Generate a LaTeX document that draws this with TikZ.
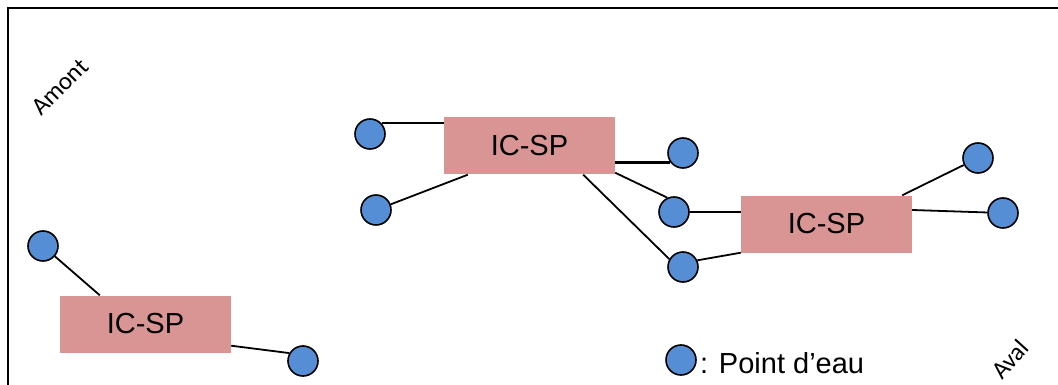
\documentclass[tikz,border=0pt]{standalone}
\usepackage{fontspec}
\setmainfont{Liberation Sans}
\newfontfamily\calib{Carlito}
\usetikzlibrary{positioning}
\definecolor{boxpink}{RGB}{217,148,148}
\definecolor{eaublue}{RGB}{85,142,213}
\newcommand{\boxw}{171pt}

\begin{document}
\begin{tikzpicture}[x=1pt, y=-1pt,
    icsp/.style={rectangle, fill=boxpink, minimum width=\boxw, minimum height=57pt, inner sep=0pt, font=\fontsize{29}{34}\selectfont},
    eau/.style={circle, draw, fill=eaublue, line width=1.6pt, minimum size=30pt, inner sep=0pt},
    link/.style={line width=1.8pt},
    side/.style={font=\calib\fontsize{25}{29}\selectfont, inner sep=0pt}]
    \clip (0,0) rectangle (1058,385);
    % frame
    \draw[line width=2.2pt] (8,400) -- (8,8) -- (1070,8);

    \node[side, rotate=45] (amont) at (60,87) {Amont};
    \node[side, rotate=48] (aval) at (1010,359) {Aval};

    % Stations
    \node[icsp] (box-1) at (529.5,146) {IC-SP};
    \node[icsp] (box-2) at (826.5,224) {IC-SP};
    \node[icsp] (box-3) at (145.5,324) {IC-SP};

    % Points d'eau
    \node[eau] (eau-1) at (370,134) {};
    \node[eau] (eau-2) at (376,210) {};
    \node[eau] (eau-3) at (683,153) {};
    \node[eau] (eau-4) at (674,212) {};
    \node[eau] (eau-5) at (683,267) {};
    \node[eau] (eau-6) at (978,158) {};
    \node[eau] (eau-7) at (1003,213) {};
    \node[eau] (eau-8) at (43,246) {};
    \node[eau] (eau-9) at (303,361) {};

    % Links
    \draw[link] (eau-1.43) -- (eau-1.43 -| box-1.west);
    \draw[link] (eau-2) -- ([xshift=24]box-1.south west);
    \draw[line width=3pt] (eau-3.215 -| box-1.east) -- (eau-3.215);
    \draw[link] ([yshift=2]box-1.south east) -- (eau-4.115);
    \draw[link] ([xshift=-32]box-1.south east) -- (eau-5.150);
    \draw[link] (eau-4.east) -- (eau-4.east -| box-2.west);
    \draw[link] (eau-5.25) -- (box-2.south west);
    \draw[link] ([xshift=-10]box-2.north east) -- (eau-6);
    \draw[link] ([yshift=14]box-2.east) -- (eau-7);
    \draw[link] (eau-8) -- ([xshift=40]box-3.north west);
    \draw[link] ([yshift=7]box-3.south east) -- (eau-9.150);

    % Legend
    \node[eau] (legend) at (681,360) {};
    \node[anchor=base west, inner sep=0pt, font=\fontsize{29}{34}\selectfont] (legend-text) at (700,373) {: Point d’eau};

\end{tikzpicture}
\end{document}
